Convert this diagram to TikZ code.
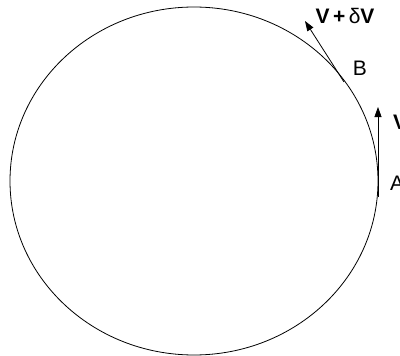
\documentclass[tikz,border=0pt]{standalone}
\usepackage{fontspec}
\setmainfont{Liberation Sans}
\usetikzlibrary{arrows.meta}
\begin{document}
\begin{tikzpicture}[x=1pt,y=-1pt,
  curve/.style={line width=0.8pt},
  vec/.style={line width=0.8pt,-{Triangle[length=10pt,width=7pt]}},
  lbl/.style={font=\fontsize{21}{23}\selectfont,inner sep=0pt},
  vlbl/.style={font=\fontsize{21}{23}\selectfont,inner sep=0pt}]
\useasboundingbox (0,0) rectangle (400,356);
\draw[curve] (194,181) ellipse [x radius=184, y radius=174];
\coordinate (A0) at (378,197);
\coordinate (A1) at (378,107);
\coordinate (B0) at (344,82);
\coordinate (B1) at (305,21);
\draw[vec] (A0) -- (A1);
\draw[vec] (B0) -- (B1);
\node[lbl,anchor=west] (la) at (390,183) {A};
\node[lbl] (lb) at (360,68) {B};
\node[vlbl,anchor=west] (lv) at (393,122) {\textbf{V}};
\node[vlbl] (lvd) at (345,16) {\textbf{V\,+\,}δ\textbf{V}};
\end{tikzpicture}
\end{document}
